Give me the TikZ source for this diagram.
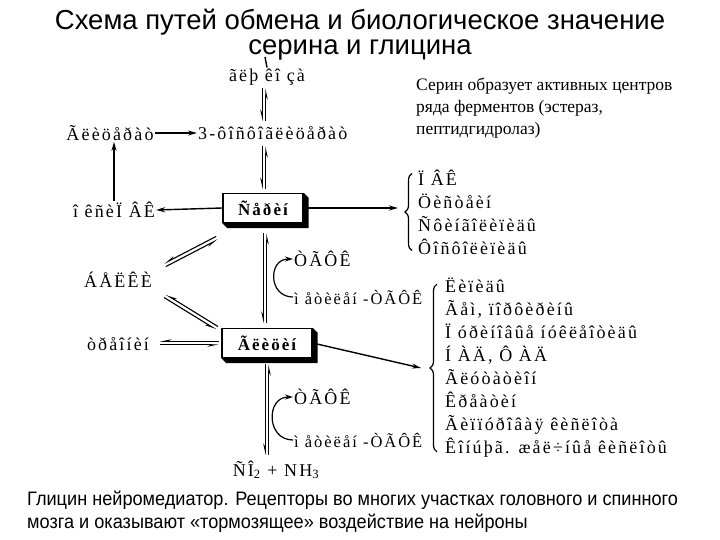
\documentclass[tikz,border=0pt]{standalone}
\usepackage{fontspec}
\setmainfont{Liberation Serif}
\newfontfamily\sansfont{Liberation Sans}
\newfontfamily\narrowfont[FakeStretch=0.93]{Liberation Sans}
\newfontfamily\mojifont[LetterSpace=12]{Liberation Serif}
\usetikzlibrary{arrows.meta,calc,decorations.pathreplacing}

\tikzset{
  title/.style={font=\sansfont\fontsize{27.5}{32}\selectfont},
  moji/.style={font=\mojifont\fontsize{18}{20}\selectfont, inner sep=1pt},
  mojismall/.style={font=\mojifont\fontsize{16.5}{20}\selectfont, inner sep=1pt},
  mojilist/.style={font=\mojifont\fontsize{18}{23}\selectfont, inner sep=0pt, align=left},
  boxnode/.style={draw, line width=1.3pt, fill=white, minimum width=80pt, minimum height=29pt,
    inner sep=2pt, font=\mojifont\bfseries\fontsize{17}{20}\selectfont},
  arr/.style={-{Stealth[length=9pt,width=5pt]}, line width=1.4pt},
  curv/.style={-{Stealth[length=8pt,width=5pt]}, line width=1.2pt},
  harp/.style={-{Stealth[harpoon,swap,length=9pt,width=4pt]}, line width=1.1pt},
  brc/.style={decorate, decoration={brace, amplitude=7pt}, line width=1.2pt},
}

% two opposite half arrows
\newcommand\equil[2]{%
  \draw[harp] ($(#1)!1.8pt!-90:(#2)$) -- ($(#2)!1.8pt!90:(#1)$);
  \draw[harp] ($(#2)!1.8pt!-90:(#1)$) -- ($(#1)!1.8pt!90:(#2)$);
}
% black edge under a box
\newcommand\boxshade[1]{%
  \fill (#1.north east) -- ([shift={(5,5)}]#1.north east) -- ([shift={(5,5)}]#1.south east)
    -- ([shift={(5,5)}]#1.south west) -- (#1.south west) -- (#1.south east) -- cycle;
}

\begin{document}
\begin{tikzpicture}[x=1pt,y=-1pt]
\useasboundingbox (0,0) rectangle (720,540);

\node[title] (t1) at (360,22) {Схема путей обмена и биологическое значение};
\node[title] (t2) at (360,50) {серина и глицина};

% metabolites
\node[moji] (glu) at (267,77) {ãëþ êî çà};
\node[moji,anchor=west] (fg3) at (197,133) {3-ôîñôîãëèöåðàò};
\node[moji] (glyc) at (110,133) {Ãëèöåðàò};
\node[moji] (oxy) at (114,210) {î êñèÏ ÂÊ};
\node[boxnode] (ser) at (263,208) {Ñåðèí};
\node[moji] (bel) at (118,280) {ÁÅËÊÈ};
\node[moji] (thr) at (118,344) {òðåîíèí};
\node[boxnode,minimum width=90pt] (gly) at (267,343) {Ãëèöèí};
\node[moji,anchor=west] (thf1) at (293,259) {ÒÃÔÊ};
\node[mojismall,anchor=west] (mth1) at (293,297) {ì åòèëåí -ÒÃÔÊ};
\node[moji,anchor=west] (thf2) at (293,397) {ÒÃÔÊ};
\node[mojismall,anchor=west] (mth2) at (293,440) {ì åòèëåí -ÒÃÔÊ};
\node[moji] (co2) at (276,470) {ÑÎ\textsubscript{2} + NH\textsubscript{3}};
\boxshade{ser}
\boxshade{gly}

% products
\node[anchor=north west,align=left,inner sep=0pt,font=\fontsize{17.5}{22}\selectfont]
  (note) at (416,78) {Серин образует активных центров\\ряда ферментов (эстераз,\\пептидгидролаз)};
\node[mojilist,anchor=west] (list1) at (418,212) {Ï ÂÊ\\Öèñòåèí\\Ñôèíãîëèïèäû\\Ôîñôîëèïèäû};
\node[mojilist,anchor=west] (list2) at (445,368) {Ëèïèäû\\Ãåì, ïîðôèðèíû\\Ï óðèíîâûå íóêëåîòèäû\\Í ÀÄ, Ô ÀÄ\\Ãëóòàòèîí\\Êðåàòèí\\Ãèïïóðîâàÿ êèñëîòà\\Êîíúþã. æåë÷íûå êèñëîòû};
\draw[brc] ([xshift=-6pt,yshift=4pt]list1.south west) -- ([xshift=-6pt,yshift=-4pt]list1.north west);
\draw[brc] ([xshift=-8pt,yshift=6pt]list2.south west) -- ([xshift=-8pt,yshift=-6pt]list2.north west);
\coordinate (b1) at ([xshift=-20pt]list1.west);
\coordinate (b2) at ([xshift=-24pt]list2.west);

% arrows
\coordinate (gtop) at (265,57);
\draw[line width=1.4pt] (glu.north) -- (gtop);
\draw[arr] (glyc.east) -- (fg3.west);
\draw[arr] (oxy.north) -- (oxy.north |- glyc.south);
\draw[arr] (ser.west) -- (oxy.east);
\draw[arr] (ser.east) -- (ser.east -| b1);
\draw[arr] (gly.east) -- (b2);

\coordinate (e1a) at (264,88);  \coordinate (e1b) at (264,121);
\coordinate (e2a) at (264,146); \coordinate (e2b) at (264,189);
\coordinate (e3a) at (165,265); \coordinate (e3b) at (217,238);
\coordinate (e4a) at (165,296); \coordinate (e4b) at (217,328);
\coordinate (e5a) at (160,343); \coordinate (e5b) at (219,343);
\coordinate (e6a) at (265,233); \coordinate (e6b) at (265,323);
\coordinate (e7a) at (267,364); \coordinate (e7b) at (267,455);
\equil{e1a}{e1b}
\equil{e2a}{e2b}
\equil{e3a}{e3b}
\equil{e4a}{e4b}
\equil{e5a}{e5b}
\equil{e6a}{e6b}
\equil{e7a}{e7b}

\draw[curv] (mth1.west) .. controls +(-25,0) and +(-25,0) .. (thf1.west);
\draw[curv] (mth2.west) .. controls +(-27,0) and +(-27,0) .. (thf2.west);

\node[anchor=north west,align=left,inner sep=0pt,font=\narrowfont\fontsize{19.5}{22.5}\selectfont]
  (foot) at (27,491) {Глицин нейромедиатор. Рецепторы во многих участках головного и спинного\\мозга и оказывают «тормозящее» воздействие на нейроны};
\end{tikzpicture}
\end{document}
